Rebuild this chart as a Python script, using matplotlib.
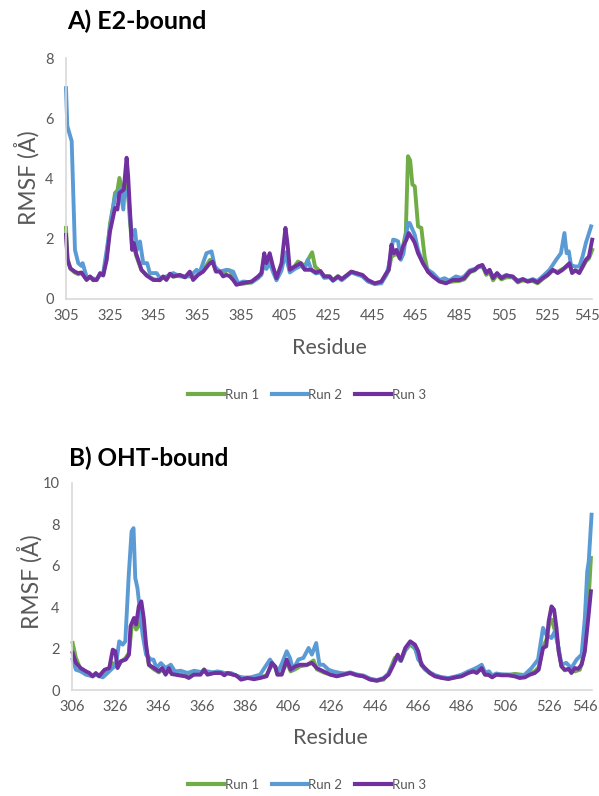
import matplotlib
matplotlib.use("Agg")
import matplotlib.pyplot as plt
from matplotlib.lines import Line2D
from matplotlib.transforms import ScaledTranslation

plt.rcParams['font.family'] = ['Lato', 'DejaVu Sans']

# ---- panel A: E2-bound ----
res_a_run1 = [305, 305.7, 307, 309, 310.6, 312.1, 314.4, 316, 317.5, 319, 320.6, 322, 323.6, 325.1,
              326.6, 327.4, 328.5, 329.4, 330.5, 331.4, 332.7, 333.4, 334.2, 335.2, 336, 337, 338,
              339.5, 341.8, 344.9, 347.9, 349.4, 350.9, 352.5, 354, 357.1, 359.4, 361.6, 363.1,
              365.4, 367.7, 370.8, 372, 373.5, 375.3, 376.8, 378.4, 379.9, 381.4, 382.9, 385.2,
              389.8, 392.8, 394.3, 395.6, 396.6, 398.1, 399.6, 401.2, 403.5, 405.3, 406.2, 407.3,
              409.6, 411, 412.3, 414.1, 416.4, 417.5, 418.8, 421.3, 423, 425.5, 427, 429.3, 431,
              433.2, 435.4, 438.5, 440.5, 443, 446.1, 449.1, 451.4, 452.5, 453.7, 456, 457.5, 459,
              460.3, 461.3, 462.3, 463.3, 464.4, 465.9, 467.4, 468.9, 470.4, 472.6, 475.7, 478.7,
              481.7, 484.8, 487, 489.5, 491.8, 493.3, 495.3, 497.1, 498.6, 500.2, 502, 504, 506.2,
              509.2, 511.5, 513.8, 516, 518.3, 520.5, 522.8, 525.1, 527.5, 529.7, 532, 533.5,
              535.1, 536.3, 537.8, 539.6, 541.1, 542.6, 544, 545.5]
rmsf_a_run1 = [2.36, 1.35, 1.0, 0.88, 0.82, 0.86, 0.66, 0.72, 0.62, 0.64, 0.84, 0.8, 1.4, 2.5,
               3.1, 3.52, 3.6, 4.02, 3.7, 3.6, 3.9, 3.5, 2.6, 1.75, 1.8, 1.45, 1.25,
               0.95, 0.8, 0.66, 0.62, 0.72, 0.66, 0.8, 0.74, 0.78, 0.72, 0.88, 0.68,
               0.82, 0.95, 1.3, 1.28, 0.95, 0.92, 0.85, 0.95, 0.95, 0.75, 0.5, 0.5,
               0.55, 0.7, 0.85, 1.3, 1.1, 1.35, 1.0, 0.68, 1.1, 1.5, 1.3, 0.95,
               1.1, 1.24, 1.19, 1.1, 1.41, 1.55, 1.08, 0.9, 0.76, 0.75, 0.62, 0.76, 0.66,
               0.78, 0.9, 0.84, 0.76, 0.6, 0.5, 0.55, 0.8, 0.95, 1.4, 1.5, 1.4, 1.75,
               2.2, 4.74, 4.6, 3.8, 3.74, 2.41, 2.36, 1.41, 0.9, 0.78, 0.6, 0.55,
               0.58, 0.6, 0.65, 0.88, 0.95, 1.05, 1.1, 0.8, 0.9, 0.62, 0.8, 0.65, 0.72,
               0.72, 0.55, 0.62, 0.58, 0.6, 0.52, 0.66, 0.78, 0.95, 0.9, 1.0, 1.05,
               1.15, 0.9, 0.95, 0.9, 1.05, 1.25, 1.35, 1.63]

res_a_run2 = [305, 305.6, 307.6, 309.1, 310.6, 312, 312.6, 314.4, 316.7, 319, 320.6, 322, 323.6,
              325.9, 327.4, 329.7, 331.2, 331.8, 333.5, 335, 336.5, 337.5, 338.8, 340.3, 342.1,
              343.3, 346.4, 348, 351, 354, 357.1, 359.4, 361.6, 364.7, 366, 369.2, 371.5, 373,
              375.3, 378.4, 381.4, 383.7, 386, 389.8, 392.8, 394.3, 395.6, 396.6, 398.1, 399.6,
              401.2, 403.5, 405.3, 406.2, 407.3, 409.6, 412.3, 414.1, 415.5, 417.2, 419.2, 421.3,
              423, 425.5, 427, 429.3, 431, 433.2, 435.4, 438.5, 440.5, 443, 446.1, 449.1, 451.4,
              452.5, 454.5, 455.7, 456.8, 458, 459.2, 461.3, 462.1, 464.4, 465.9, 468.1, 470.4,
              472.6, 475.7, 478, 480.2, 483.2, 485.5, 487, 489.5, 491.8, 493.3, 495.3, 497.1,
              498.6, 500.2, 502, 504, 506.2, 509.2, 511.5, 513.8, 516, 518.3, 520.5, 522.8, 526,
              529, 531.2, 532.8, 533.8, 534.8, 535.8, 537.5, 539.6, 541.1, 542.6, 545]
rmsf_a_run2 = [7.0, 5.74, 5.24, 1.63, 1.19, 1.1, 1.19, 0.74, 0.69, 0.66, 0.8, 0.86, 1.63,
               2.74, 3.41, 3.63, 2.97, 3.63, 3.41, 2.08, 2.3, 1.63, 1.91, 1.19, 1.19,
               0.86, 0.86, 0.69, 0.75, 0.86, 0.75, 0.75, 0.75, 0.97, 0.86, 1.52, 1.58, 1.08,
               0.91, 0.97, 0.91, 0.52, 0.58, 0.55, 0.7, 0.8, 1.2, 1.0, 1.2, 0.9,
               0.62, 0.95, 1.55, 1.2, 0.88, 1.0, 1.1, 1.0, 1.3, 0.95, 0.85, 0.88,
               0.7, 0.72, 0.6, 0.72, 0.62, 0.75, 0.88, 0.8, 0.75, 0.58, 0.5, 0.52, 0.8,
               1.1, 1.97, 1.95, 1.91, 1.3, 1.5, 2.52, 2.52, 2.13, 1.63, 1.19, 0.97,
               0.86, 0.63, 0.69, 0.61, 0.75, 0.7, 0.75, 0.95, 1.0, 1.05, 1.08, 0.9,
               0.95, 0.72, 0.85, 0.72, 0.8, 0.72, 0.62, 0.66, 0.6, 0.66, 0.6, 0.75, 0.97,
               1.3, 1.52, 2.19, 1.52, 1.58, 1.13, 1.08, 1.08, 1.41, 1.86, 2.41]

res_a_run3 = [305, 305.7, 307, 309, 310.6, 312.1, 314.4, 316, 317.5, 319, 320.6, 322, 323.6, 325.1,
              326.6, 327.4, 328.5, 329.4, 331.4, 332.7, 333.4, 334.2, 335.2, 336, 337, 338, 339.5,
              341.8, 344.9, 347.9, 349.4, 350.9, 352.5, 354, 357.1, 359.4, 361.6, 363.1, 365.4,
              367.7, 370.8, 372, 373.5, 375.3, 376.8, 378.4, 379.9, 381.4, 382.9, 385.2, 389.8,
              392.8, 394.3, 395.6, 396.6, 398.1, 399.6, 401.2, 403.5, 405.3, 406.2, 407.3, 409.6,
              412.3, 414.1, 417.2, 419.2, 421.3, 423, 425.5, 427, 429.3, 431, 433.2, 435.4, 438.5,
              440.5, 443, 446.1, 449.1, 451.4, 452.5, 453.7, 454.9, 456, 457.5, 459, 460.6, 461.6,
              463.6, 464.4, 465.9, 468.1, 470.4, 472.6, 475.7, 478.7, 481.7, 484.8, 487, 489.5,
              491.8, 493.3, 495.3, 497.1, 498.6, 500.2, 502, 504, 506.2, 509.2, 511.5, 513.8, 516,
              518.3, 520.5, 522.8, 525.1, 527.5, 529.7, 532, 533.5, 535.1, 536.3, 537.8, 539.6,
              541.1, 542.6, 544, 545.5]
rmsf_a_run3 = [2.13, 1.3, 1.02, 0.91, 0.86, 0.88, 0.63, 0.75, 0.63, 0.63, 0.86, 0.78, 1.3, 2.24,
               2.74, 3.02, 2.97, 3.52, 3.63, 4.69, 4.08, 2.97, 1.63, 1.86, 1.52, 1.3, 0.97,
               0.78, 0.63, 0.63, 0.75, 0.63, 0.84, 0.75, 0.8, 0.72, 0.91, 0.63, 0.8,
               0.91, 1.19, 1.24, 0.91, 0.91, 0.75, 0.8, 0.75, 0.63, 0.47, 0.52, 0.58,
               0.75, 0.86, 1.52, 1.19, 1.52, 1.08, 0.69, 1.19, 2.36, 1.86, 0.97, 1.08,
               1.19, 0.97, 0.97, 0.88, 0.93, 0.75, 0.75, 0.62, 0.75, 0.66, 0.78, 0.91, 0.84,
               0.8, 0.63, 0.52, 0.58, 0.86, 0.97, 1.8, 1.52, 1.63, 1.35, 1.74, 1.97, 2.19,
               1.97, 1.86, 1.52, 1.19, 0.91, 0.75, 0.58, 0.52, 0.63, 0.63, 0.69, 0.91,
               0.97, 1.08, 1.13, 0.86, 0.97, 0.69, 0.86, 0.69, 0.78, 0.75, 0.58, 0.66, 0.58,
               0.63, 0.55, 0.69, 0.8, 0.97, 0.86, 0.97, 1.08, 1.19, 0.86, 0.95, 0.86,
               1.08, 1.3, 1.41, 1.97]

# ---- panel B: OHT-bound ----
res_b_run1 = [306.3, 307.8, 310, 312.5, 314, 315.5, 317, 318.5, 321, 323.2, 324.8, 327, 328.5,
              330.8, 332.3, 333.5, 334.6, 335.6, 336.8, 338, 339.1, 340.2, 341.5, 343.8, 346.1,
              347.6, 349.2, 350.7, 352, 355.3, 358.3, 360, 362.2, 365.3, 367, 368.5, 371.7, 374.8,
              377.8, 380.2, 384, 387.1, 390, 392.8, 395.8, 398.2, 399.8, 400.8, 402.8, 405.1,
              406.9, 409, 411.3, 414.4, 417.5, 419, 422.1, 425.2, 428.2, 431.3, 434.4, 437.5,
              440.5, 443.6, 446.7, 449.8, 452.1, 455, 456.3, 457.8, 459.8, 462.1, 464.3, 465.8,
              467.3, 468.9, 471.2, 473.5, 476.6, 479.7, 482.8, 485.8, 488.9, 491.2, 495.1, 496.6,
              499.9, 501.9, 504.2, 507.3, 510.3, 512.6, 515, 517.3, 519.6, 521.4, 523.4, 524.9,
              526.5, 527.5, 528.5, 529.6, 530.6, 531.9, 533.4, 535.3, 536.5, 538.1, 540.4, 541.5,
              542.7, 544.3, 545.5]
rmsf_b_run1 = [2.27, 1.55, 0.98, 0.85, 0.8, 0.68, 0.78, 0.7, 0.92, 1.0, 1.3, 1.1, 1.35,
               1.55, 1.8, 3.0, 3.4, 2.92, 3.1, 3.5, 3.0, 2.0, 1.2, 1.0, 0.85,
               1.0, 0.78, 0.95, 0.8, 0.75, 0.7, 0.7, 0.8, 0.82, 1.0, 0.8, 0.85, 0.85,
               0.8, 0.76, 0.6, 0.6, 0.58, 0.6, 0.72, 1.2, 1.1, 0.75, 0.8, 1.35,
               0.9, 1.0, 1.15, 1.2, 1.43, 1.0, 0.85, 0.75, 0.7, 0.75, 0.82, 0.72,
               0.66, 0.52, 0.45, 0.5, 0.8, 1.55, 1.65, 1.4, 1.9, 2.2, 2.0, 1.6,
               1.2, 1.0, 0.8, 0.7, 0.6, 0.55, 0.6, 0.68, 0.85, 0.9, 1.0, 0.75,
               0.68, 0.75, 0.75, 0.72, 0.78, 0.75, 0.72, 0.8, 0.9, 1.1, 2.1, 2.4,
               3.32, 3.4, 3.0, 2.7, 1.9, 1.15, 0.95, 1.0, 0.98, 0.9, 0.98, 1.4,
               2.03, 4.12, 6.38]

res_b_run2 = [306.3, 307.8, 310, 312.5, 315.5, 317, 320.2, 323.2, 326.3, 327.8, 329.4, 330.6,
              332.2, 333.5, 334.4, 335.2, 336.2, 337.4, 338.6, 340.2, 342.5, 343.6, 345, 347,
              349.2, 351.6, 353.5, 356.2, 359.3, 362.4, 365.5, 368.5, 371, 373.2, 376.3, 379.4,
              382.5, 385.5, 388.1, 392.8, 395.8, 397.4, 399, 401.3, 403, 405.1, 406.6, 408,
              410.5, 412.8, 415.2, 416.7, 418.7, 420.2, 422, 424.4, 426.5, 429.8, 432, 434.4,
              437.5, 440.5, 443.6, 446.7, 449.8, 452.1, 454.4, 456, 457.8, 459.8, 462.1, 464.4,
              465.8, 467.3, 468.9, 471.2, 473.5, 476.6, 479.7, 482.8, 485.8, 488.9, 491.2, 493.2,
              495.1, 496.6, 498.5, 499.9, 501.9, 504.2, 507.3, 510.3, 512.6, 515, 518.1, 521.1,
              523.4, 524.9, 527.3, 528.8, 530.6, 531.9, 534.1, 536.5, 538.9, 541.2, 542.7, 543.8,
              544.5, 545.8]
rmsf_b_run2 = [1.47, 0.98, 0.9, 0.74, 0.66, 0.74, 0.61, 0.9, 1.22, 2.35, 2.19, 2.35,
               5.57, 7.66, 7.82, 5.41, 4.93, 3.8, 2.67, 1.7, 1.47, 1.47, 1.06, 1.3,
               1.06, 1.22, 0.9, 0.93, 0.82, 0.93, 0.87, 0.9, 0.85, 0.9, 0.82, 0.82,
               0.66, 0.58, 0.6, 0.74, 1.22, 1.47, 1.22, 0.93, 1.31, 1.87, 1.55, 0.98,
               1.47, 1.55, 2.03, 1.71, 2.27, 1.22, 1.22, 0.98, 0.9, 0.82, 0.8, 0.85,
               0.75, 0.7, 0.55, 0.48, 0.58, 0.8, 1.3, 1.55, 1.4, 1.95, 2.27, 2.03,
               1.47, 1.3, 1.0, 0.85, 0.72, 0.62, 0.58, 0.65, 0.74, 0.9, 1.0, 1.1,
               1.22, 0.85, 0.9, 0.7, 0.8, 0.75, 0.75, 0.72, 0.66, 0.75, 1.06, 1.47,
               3.0, 2.67, 2.51, 2.83, 2.03, 1.22, 1.31, 1.06, 1.47, 1.71, 3.48, 5.73,
               6.22, 8.47]

res_b_run3 = [306.3, 307.8, 310, 312.5, 314, 315.5, 317, 318.5, 321, 323.2, 324.8, 326, 327,
              328.5, 330.8, 332.3, 333, 334.6, 335.6, 336.8, 338, 339.1, 340.2, 341.5, 343.8,
              346.1, 347.6, 349.2, 350.7, 352, 355.3, 358.3, 359.9, 362.2, 365.3, 367, 368.5,
              371.7, 374.8, 376.3, 377.8, 380.2, 381.7, 384, 387.1, 390, 392.8, 395.8, 398.2,
              399.8, 400.8, 402.8, 405.1, 406.9, 409, 411.3, 414.4, 416.7, 419, 422.1, 425.2,
              428.2, 431.3, 434.4, 437.5, 440.5, 443.6, 446.7, 449.8, 452.1, 454.4, 456.3, 457.8,
              459.8, 462.1, 464.3, 465.8, 467.3, 468.9, 471.2, 473.5, 476.6, 479.7, 482.8, 485.8,
              488.9, 491.2, 492.8, 495.1, 496.6, 498.2, 499.9, 501.9, 504.2, 507.3, 510.3, 512.6,
              515, 517.3, 519.6, 521.4, 523.4, 524.9, 526, 527.3, 528.5, 529.6, 530.6, 531.9,
              533.4, 535.3, 536.5, 538.1, 539.6, 541.2, 542.7, 544.3, 545.5]
rmsf_b_run3 = [1.79, 1.31, 1.06, 0.9, 0.82, 0.66, 0.82, 0.66, 0.98, 1.06, 1.95, 1.87, 1.06,
               1.39, 1.47, 1.71, 3.08, 3.48, 3.16, 4.04, 4.28, 3.48, 2.19, 1.22, 1.06,
               0.9, 1.06, 0.74, 1.06, 0.77, 0.71, 0.66, 0.58, 0.74, 0.74, 0.98, 0.74,
               0.82, 0.82, 0.71, 0.82, 0.74, 0.71, 0.5, 0.58, 0.52, 0.58, 0.66, 1.31,
               1.14, 0.74, 0.74, 1.47, 0.98, 1.14, 1.22, 1.22, 1.31, 1.06, 0.9, 0.74,
               0.66, 0.74, 0.82, 0.71, 0.66, 0.5, 0.45, 0.55, 0.74, 1.22, 1.71, 1.43,
               2.03, 2.35, 2.19, 1.87, 1.22, 1.06, 0.82, 0.66, 0.58, 0.53, 0.61, 0.66,
               0.82, 0.9, 0.82, 1.06, 0.74, 0.74, 0.61, 0.74, 0.71, 0.71, 0.66, 0.58,
               0.61, 0.74, 0.82, 0.98, 2.03, 2.11, 3.32, 4.04, 3.88, 3.0, 1.87, 1.14,
               0.98, 1.02, 0.82, 1.06, 1.02, 1.22, 1.87, 3.48, 4.77]

run_names = ['Run 1', 'Run 2', 'Run 3']
run_colors = ['#70ad47', '#5b9bd5', '#7030a0']

xticks_a = [305, 325, 345, 365, 385, 405, 425, 445, 465, 485, 505, 525, 545]
xticks_b = [306, 326, 346, 366, 386, 406, 426, 446, 466, 486, 506, 526, 546]

grey = '#595959'

fig = plt.figure(figsize=(5.99, 7.96), dpi=100)


def style_axes(ax, xticks, yticks, xlim, ylim, last_shift):
    ax.set_xlim(*xlim)
    ax.set_ylim(*ylim)
    ax.set_xticks(xticks)
    ax.set_yticks(yticks)
    ax.tick_params(length=0, colors=grey, labelsize=10.5)
    ax.tick_params(axis='x', pad=7)
    ax.tick_params(axis='y', pad=9)
    for s in ['top', 'right']:
        ax.spines[s].set_visible(False)
    for s in ['left', 'bottom']:
        ax.spines[s].set_color('#d9d9d9')
        ax.spines[s].set_linewidth(1.2)
    # last x label sits at the figure edge, nudge it a bit left
    last = ax.xaxis.get_major_ticks()[-1].label1
    last.set_transform(last.get_transform() + ScaledTranslation(-last_shift, 0, fig.dpi_scale_trans))


ax1 = fig.add_axes([66 / 599, 1 - 299 / 796, 526 / 599, 241 / 796])
for xs, ys, c in zip([res_a_run1, res_a_run2, res_a_run3],
                     [rmsf_a_run1, rmsf_a_run2, rmsf_a_run3], run_colors):
    ax1.plot(xs, ys, color=c, lw=2.8, solid_joinstyle='round', clip_on=False)
style_axes(ax1, xticks_a, [0, 2, 4, 6, 8], (305, 545.4), (0, 8), 0.04)

ax2 = fig.add_axes([72 / 599, 1 - 690 / 796, 520 / 599, 207 / 796])
for xs, ys, c in zip([res_b_run1, res_b_run2, res_b_run3],
                     [rmsf_b_run1, rmsf_b_run2, rmsf_b_run3], run_colors):
    ax2.plot(xs, ys, color=c, lw=2.8, solid_joinstyle='round', clip_on=False)
style_axes(ax2, xticks_b, [0, 2, 4, 6, 8, 10], (306, 546), (0, 10), 0.075)

# titles and axis labels
fig.text(67 / 599, 1 - 21 / 796, 'A) E2-bound', fontsize=18, fontweight='bold',
         va='center', ha='left', color='black')
fig.text(69 / 599, 1 - 458 / 796, 'B) OHT-bound', fontsize=17.5, fontweight='bold',
         va='center', ha='left', color='black')
fig.text(27 / 599, 1 - 178 / 796, 'RMSF (Å)', fontsize=16.5, rotation=90,
         va='center', ha='center', color=grey)
fig.text(30 / 599, 1 - 582 / 796, 'RMSF (Å)', fontsize=16.5, rotation=90,
         va='center', ha='center', color=grey)
fig.text(329 / 599, 1 - 348 / 796, 'Residue', fontsize=15.5, va='center', ha='center', color=grey)
fig.text(330 / 599, 1 - 738 / 796, 'Residue', fontsize=15.5, va='center', ha='center', color=grey)

handles = [Line2D([0], [0], color=c, lw=3) for c in run_colors]
for yc in [1 - 395 / 796, 1 - 785 / 796]:
    fig.legend(handles, run_names, loc='center', bbox_to_anchor=(307 / 599, yc), ncol=3,
               frameon=False, fontsize=9.5, labelcolor=grey, handlelength=2.7,
               handletextpad=0.05, columnspacing=1.0)

fig.savefig('out.png', dpi=100)
